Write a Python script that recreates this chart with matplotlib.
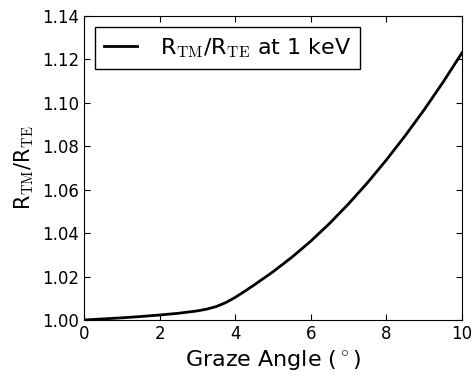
import numpy as np
import matplotlib
matplotlib.use("Agg")
import matplotlib.pyplot as plt

# ratio of TM to TE reflectivity vs graze angle
angle = [0, 0.5, 1, 1.5, 2, 2.5, 3, 3.25, 3.5, 3.75, 4, 4.25, 4.5, 5, 5.5, 6,
         6.5, 7, 7.5, 8, 8.5, 9, 9.5, 10]
ratio = [1.0000, 1.0005, 1.0010, 1.0016, 1.0023, 1.0031, 1.0042, 1.0050,
         1.0062, 1.0080, 1.0104, 1.0132, 1.0161, 1.0222, 1.0289, 1.0363,
         1.0445, 1.0535, 1.0632, 1.0737, 1.0849, 1.0968, 1.1095, 1.1230]

plt.rcParams['mathtext.fontset'] = 'cm'
plt.rcParams['mathtext.rm'] = 'serif'

fig = plt.figure(figsize=(4.73, 3.77), dpi=100)
ax = fig.add_axes([0.1776, 0.1512, 0.799, 0.8064])

ax.plot(angle, ratio, color='black', lw=2, label=r'R$_{\rm TM}$/R$_{\rm TE}$ at 1 keV')

ax.set_xlim(0, 10)
ax.set_ylim(1.00, 1.14)
ax.set_xticks([0, 2, 4, 6, 8, 10])
ax.set_yticks(np.arange(1.00, 1.141, 0.02))
ax.yaxis.set_major_formatter(matplotlib.ticker.FormatStrFormatter('%.2f'))
ax.tick_params(direction='in', top=True, right=True, labelsize=12, length=4)

ax.set_xlabel(r'Graze Angle ($^\circ$)', fontsize=16)
ax.set_ylabel(r'R$_{\rm TM}$/R$_{\rm TE}$', fontsize=15)

leg = ax.legend(loc='upper left', fontsize=16, fancybox=False, framealpha=1,
                handlelength=1.5, handletextpad=1.0)
leg.get_frame().set_edgecolor('black')

fig.savefig('out.png', dpi=100)
